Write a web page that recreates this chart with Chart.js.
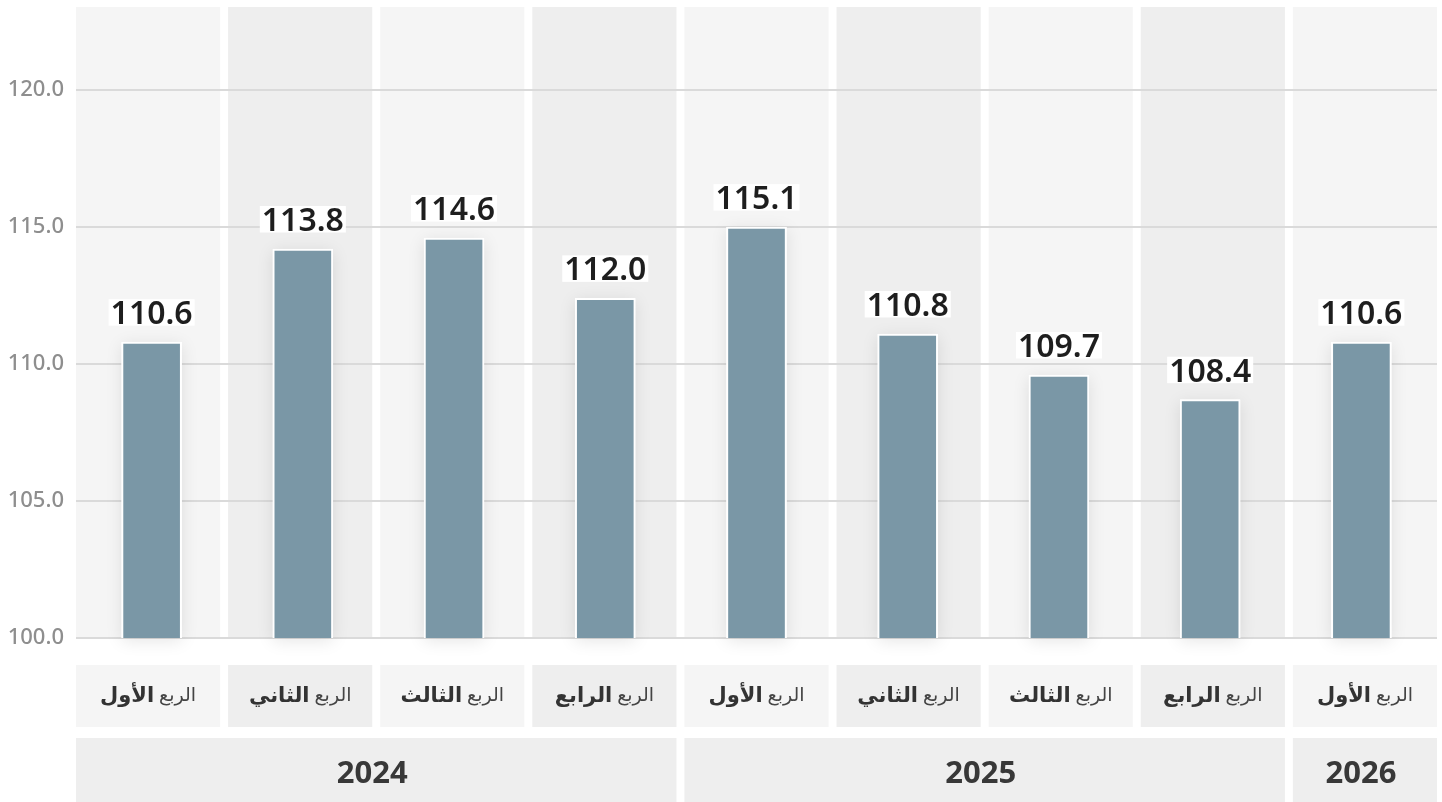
<!DOCTYPE html>
<html>
<head>
<meta charset="utf-8">
<script src="https://cdn.jsdelivr.net/npm/chart.js@4.4.1/dist/chart.umd.min.js"></script>
<style>
  html, body { margin: 0; padding: 0; background: #fff; }
</style>
</head>
<body>
<canvas id="chart" width="1442" height="802"></canvas>
<script>
// data
const quarterPrefix = 'الربع';
const quarterNames = ['الأول', 'الثاني', 'الثالث', 'الرابع', 'الأول', 'الثاني', 'الثالث', 'الرابع', 'الأول'];
const barValues = [110.8, 114.2, 114.6, 112.4, 115.0, 111.1, 109.6, 108.7, 110.8];
const valueLabels = ['110.6', '113.8', '114.6', '112.0', '115.1', '110.8', '109.7', '108.4', '110.6'];
const years = ['2024', '2025', '2026'];
const yearFirst = [0, 4, 8];
const yearLast = [3, 7, 8];

const FONT = '"Noto Sans", "DejaVu Sans", sans-serif';
const COL_LIGHT = '#f5f5f5';
const COL_DARK = '#eeeeee';
const COL_GAP = 8;

// column geometry from the chart area
function columnBox(area, i, n) {
    const pitch = (area.right - area.left + COL_GAP) / n;
    const left = area.left + i * pitch;
    return { left: left, right: left + pitch - COL_GAP };
}

const backdropPlugin = {
    id: 'backdrop',
    beforeDraw(chart) {
        const ctx = chart.ctx;
        const area = chart.chartArea;
        const n = quarterNames.length;
        ctx.save();

        // striped columns behind the bars
        for (let i = 0; i < n; i++) {
            const c = columnBox(area, i, n);
            ctx.fillStyle = i % 2 === 0 ? COL_LIGHT : COL_DARK;
            ctx.fillRect(c.left, area.top - 1, c.right - c.left, area.bottom - area.top + 1);
        }

        // quarter label boxes
        const labTop = area.bottom + 27;
        const labH = 62;
        ctx.textBaseline = 'middle';
        ctx.direction = 'rtl';
        for (let i = 0; i < n; i++) {
            const c = columnBox(area, i, n);
            ctx.fillStyle = i % 2 === 0 ? COL_LIGHT : COL_DARK;
            ctx.fillRect(c.left, labTop, c.right - c.left, labH);

            const cx = (c.left + c.right) / 2;
            const cy = labTop + labH / 2;
            ctx.font = '400 19px ' + FONT;
            const w1 = ctx.measureText(quarterPrefix).width;
            const sp = ctx.measureText(' ').width;
            ctx.font = '700 21px ' + FONT;
            const w2 = ctx.measureText(quarterNames[i]).width;
            const total = w1 + sp + w2;

            ctx.font = '400 19px ' + FONT;
            ctx.fillStyle = '#444444';
            ctx.textAlign = 'right';
            ctx.fillText(quarterPrefix, cx + total / 2, cy);
            ctx.font = '700 21px ' + FONT;
            ctx.fillStyle = '#333333';
            ctx.textAlign = 'left';
            ctx.fillText(quarterNames[i], cx - total / 2, cy);
        }

        // year boxes
        const yTop = area.bottom + 100;
        const yH = chart.height - yTop;
        ctx.direction = 'ltr';
        for (let k = 0; k < years.length; k++) {
            const a = columnBox(area, yearFirst[k], n);
            const b = columnBox(area, yearLast[k], n);
            ctx.fillStyle = COL_DARK;
            ctx.fillRect(a.left, yTop, b.right - a.left, yH);
            ctx.fillStyle = '#383838';
            ctx.font = '700 31px ' + FONT;
            ctx.textAlign = 'center';
            ctx.fillText(years[k], (a.left + b.right) / 2 - 4, yTop + yH / 2 + 4);
        }
        ctx.restore();
    }
};

const shadowPlugin = {
    id: 'barShadow',
    beforeDatasetsDraw(chart) {
        const ctx = chart.ctx;
        const bottom = chart.chartArea.bottom;
        const meta = chart.getDatasetMeta(0);
        ctx.save();
        ctx.shadowColor = 'rgba(0, 0, 0, 0.10)';
        ctx.shadowBlur = 16;
        ctx.shadowOffsetY = 3;
        ctx.fillStyle = '#ffffff';
        meta.data.forEach(bar => {
            const base = Math.min(bar.base, bottom);
            ctx.fillRect(bar.x - bar.width / 2, bar.y, bar.width, base - bar.y);
        });
        ctx.restore();
    }
};

const valueLabelPlugin = {
    id: 'valueLabels',
    afterDatasetsDraw(chart) {
        const ctx = chart.ctx;
        const meta = chart.getDatasetMeta(0);
        ctx.save();
        ctx.font = '600 32px ' + FONT;
        ctx.textAlign = 'center';
        ctx.textBaseline = 'alphabetic';
        meta.data.forEach((bar, i) => {
            const txt = valueLabels[i];
            const m = ctx.measureText(txt);
            const baseline = bar.y - 18;
            const asc = m.actualBoundingBoxAscent;
            ctx.fillStyle = '#ffffff';
            ctx.fillRect(bar.x - m.width / 2 - 2, baseline - asc - 2, m.width + 4, asc + 3.5);
            ctx.fillStyle = '#1e1e1e';
            ctx.fillText(txt, bar.x, baseline);
        });
        ctx.restore();
    }
};

const ctx = document.getElementById('chart').getContext('2d');
const chart = new Chart(ctx, {
    type: 'bar',
    data: {
        labels: quarterNames,
        datasets: [{
            data: barValues,
            backgroundColor: '#7a97a6',
            borderColor: '#ffffff',
            borderWidth: 2,
            borderSkipped: false,
            barThickness: 60
        }]
    },
    options: {
        responsive: false,
        animation: false,
        devicePixelRatio: 1,
        layout: { padding: { top: 8, right: 5, bottom: 164, left: 0 } },
        plugins: {
            legend: { display: false },
            tooltip: { enabled: false }
        },
        scales: {
            x: { display: false },
            y: {
                min: 100,
                max: 123,
                border: { display: false },
                grid: { color: '#dadada', lineWidth: 2, drawTicks: false },
                ticks: {
                    stepSize: 5,
                    includeBounds: false,
                    padding: 12,
                    color: '#8e8e8e',
                    font: { family: FONT, size: 22, weight: '500' },
                    callback: v => v.toFixed(1)
                },
                afterFit(scale) {
                    scale.width = 76;
                    scale.paddingTop = 0;
                    scale.paddingBottom = 0;
                }
            }
        }
    },
    plugins: [backdropPlugin, shadowPlugin, valueLabelPlugin]
});
</script>
</body>
</html>
